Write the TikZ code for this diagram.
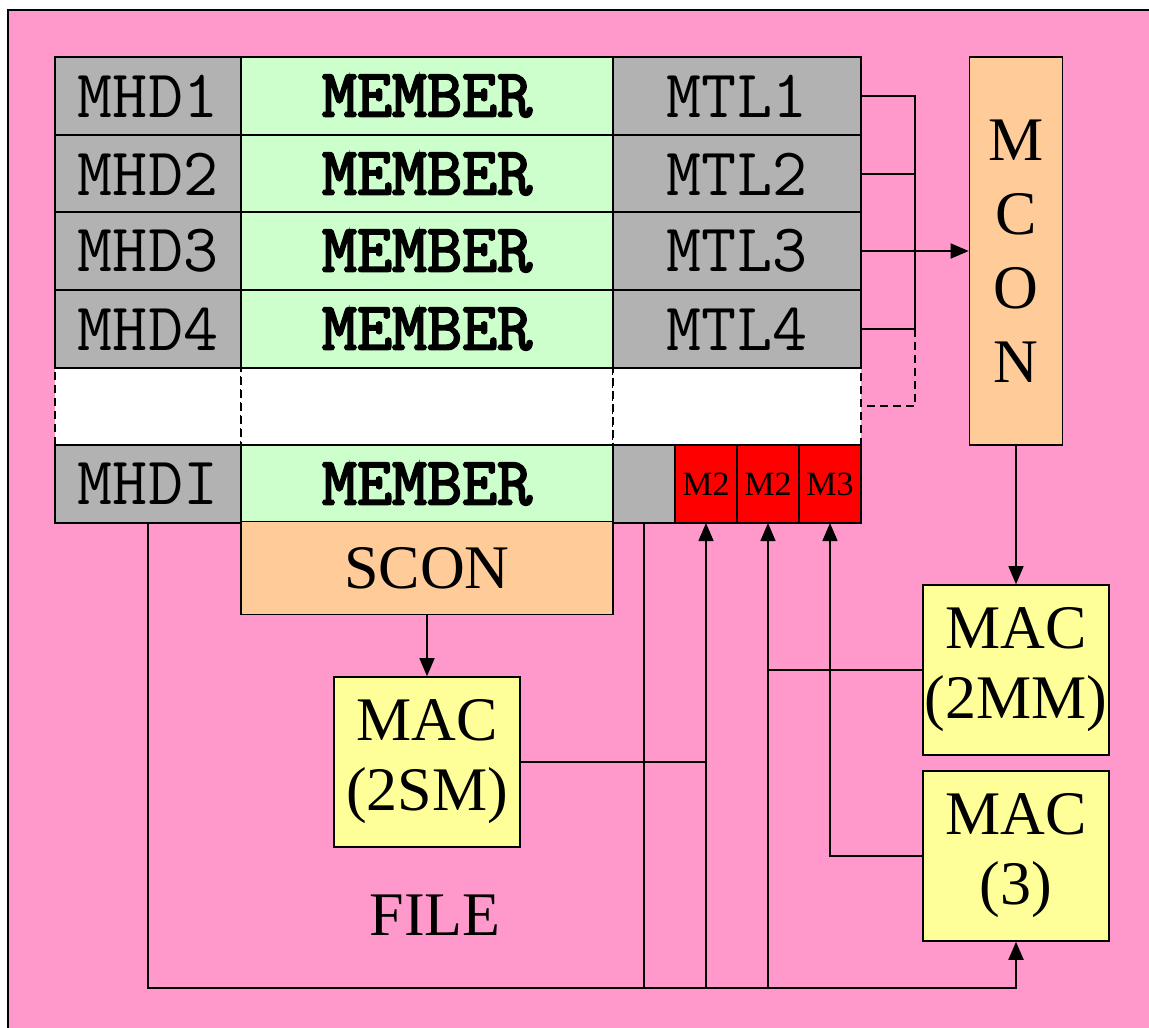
\documentclass[tikz,border=0pt]{standalone}
\usepackage{fontspec}
\setmainfont{Liberation Serif}
\newfontfamily\memfont[FakeBold=3]{Latin Modern Mono}
\usepackage{xcolor}
\usetikzlibrary{arrows.meta,positioning}
\definecolor{filePink}{HTML}{FF99CC}
\definecolor{cellGray}{HTML}{B2B2B2}
\definecolor{cellGreen}{HTML}{CCFFCC}
\definecolor{conPeach}{HTML}{FFCC99}
\definecolor{macYellow}{HTML}{FFFF99}
\definecolor{tagRed}{HTML}{FF0000}

\begin{document}
\begin{tikzpicture}[
  x=1pt, y=-1pt,
  cell/.style={draw, line width=1.6pt, inner sep=0pt, outer sep=0pt,
               minimum height=78pt},
  hd/.style={cell, fill=cellGray, minimum width=186pt,
             font=\ttfamily\fontsize{68}{68}\selectfont},
  mem/.style={cell, fill=cellGreen, minimum width=372pt,
              font=\memfont\fontsize{68}{68}\selectfont},
  tl/.style={cell, fill=cellGray, minimum width=248pt,
             font=\ttfamily\fontsize{68}{68}\selectfont},
  gap/.style={cell, fill=white, dash pattern=on 8pt off 5pt},
  tag/.style={cell, fill=tagRed, minimum width=62pt,
              font=\rmfamily\fontsize{34}{34}\selectfont},
  con/.style={draw, line width=1.6pt, fill=conPeach, inner sep=0pt,
              font=\rmfamily\fontsize{62}{74}\selectfont, align=center},
  mac/.style={draw, line width=1.6pt, fill=macYellow, inner sep=0pt,
              minimum width=186pt, minimum height=170pt,
              font=\rmfamily\fontsize{62}{70}\selectfont, align=center},
  conn/.style={line width=1.5pt},
  arr/.style={conn, -{Triangle[length=18pt,width=15pt]}},
]
\useasboundingbox (0,0) rectangle (1149,1028);

% File frame
\draw[line width=2pt, fill=filePink] (8,10) rectangle (1170,1050);

% Blank row (dashed)
\node[gap, minimum width=186pt] (gap1) at (148,406) {};
\node[gap, minimum width=372pt] (gap2) at (427,406) {};
\node[gap, minimum width=248pt] (gap3) at (737,406) {};

% Members
\node[hd] (mhd1) at (148,96) {MHD1};
\node[mem] (mem1) at (427,96) {MEMBER};
\node[tl] (mtl1) at (737,96) {MTL1};
\node[hd] (mhd2) at (148,174) {MHD2};
\node[mem] (mem2) at (427,174) {MEMBER};
\node[tl] (mtl2) at (737,174) {MTL2};
\node[hd] (mhd3) at (148,251) {MHD3};
\node[mem] (mem3) at (427,251) {MEMBER};
\node[tl] (mtl3) at (737,251) {MTL3};
\node[hd] (mhd4) at (148,329) {MHD4};
\node[mem] (mem4) at (427,329) {MEMBER};
\node[tl] (mtl4) at (737,329) {MTL4};
\node[hd] (mhdi) at (148,484) {MHDI};
\node[mem] (memi) at (427,484) {MEMBER};
\node[cell, fill=cellGray, minimum width=62pt] (mtli) at (644,484) {};
\node[tag] (m2a) at (706,484) {M2};
\node[tag] (m2b) at (768,484) {M2};
\node[tag] (m3) at (830,484) {M3};

% Controls and macs
\node[con, minimum width=372pt, minimum height=93pt] (scon) at (427,568) {SCON};
\node[con, minimum width=93pt, minimum height=388pt] (mcon) at (1016,251) {M\\C\\O\\N};
\node[mac] (mac2sm) at (427,762) {MAC\\(2SM)};
\node[mac] (mac2mm) at (1016,670) {MAC\\(2MM)};
\node[mac] (mac3) at (1016,856) {MAC\\(3)};
\node[font=\rmfamily\fontsize{62}{62}\selectfont] (file) at (435,915) {FILE};

% Trailer bus to MCON
\coordinate (bustop) at (915,96);
\coordinate (busbot) at (915,329);
\coordinate (busgap) at (915,406);
\draw[conn] (mtl1.east) -- (bustop) -- (busbot) -- (mtl4.east);
\draw[conn] (mtl2.east) -- (mtl2.east -| bustop);
\draw[conn] (mtl3.east) -- (mtl3.east -| bustop);
\draw[conn, dash pattern=on 8pt off 5pt] (busbot) -- (busgap) -- (gap3.east);
\draw[arr] (mtl3.east -| bustop) -- (mcon.west);

% Controls to macs
\draw[arr] (mcon.south) -- (mac2mm.north);
\draw[arr] (scon.south) -- (mac2sm.north);
\draw[arr] (mac2sm.east) -| (m2a.south);
\draw[arr] (mac2mm.west) -| (m2b.south);
\draw[arr] (mac3.west) -| (m3.south);

% Bottom bus
\coordinate (floor) at (0,988);
\draw[arr, line width=2pt] (mhdi.south) -- (mhdi.south |- floor) -- (mac3.south |- floor) -- (mac3.south);
\draw[conn] (mtli.south) -- (mtli.south |- floor);
\draw[conn] (m2a.south |- mac2sm.east) -- (m2a.south |- floor);
\draw[conn] (m2b.south |- mac2mm.west) -- (m2b.south |- floor);

\end{tikzpicture}
\end{document}
